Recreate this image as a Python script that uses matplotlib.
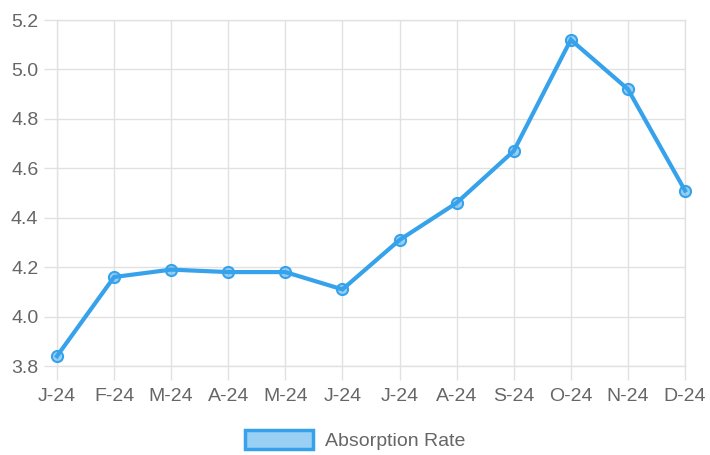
import matplotlib
matplotlib.use("Agg")
import matplotlib.pyplot as plt
from matplotlib.patches import Patch

months = ["J-24", "F-24", "M-24", "A-24", "M-24", "J-24", "J-24", "A-24", "S-24", "O-24", "N-24", "D-24"]
absorption = [3.84, 4.16, 4.19, 4.18, 4.18, 4.11, 4.31, 4.46, 4.67, 5.12, 4.92, 4.51]
y_ticks = [3.8, 4.0, 4.2, 4.4, 4.6, 4.8, 5.0, 5.2]
series_name = "Absorption Rate"

plt.rcParams['font.family'] = ['Liberation Sans', 'DejaVu Sans']

line_col = "#36A2EB"
fill_col = (54/255, 162/255, 235/255, 0.5)
grid_col = "#e1e1e1"
text_col = "#666666"

fig = plt.figure(figsize=(7.1, 4.55), dpi=100)
ax = fig.add_axes([57/710, 1 - 366/455, (685-57)/710, (366-20)/455])

x = list(range(len(months)))
ax.plot(x, absorption, color=line_col, linewidth=3.0, marker="o", markersize=8,
        markerfacecolor=fill_col, markeredgecolor=line_col, markeredgewidth=1.5,
        solid_joinstyle="miter", zorder=3, clip_on=False)

ax.set_xlim(0, len(months) - 1)
ax.set_ylim(3.8, 5.2)
ax.set_xticks(x)
ax.set_xticklabels(months)
ax.set_yticks(y_ticks)
ax.set_yticklabels([f"{v:.1f}" for v in y_ticks])

ax.grid(True, color=grid_col, linewidth=1)
for s in ax.spines.values():
    s.set_color(grid_col)
    s.set_linewidth(1)
ax.tick_params(axis="both", colors=grid_col, labelcolor=text_col, labelsize=14, width=1)
ax.tick_params(axis="y", length=9.5, pad=4)
ax.tick_params(axis="x", length=10, pad=6)

handle = Patch(facecolor=fill_col, edgecolor=line_col, linewidth=2.5)
fig.legend([handle], [series_name], loc="center", bbox_to_anchor=(0.5, 1 - 440/455),
           frameon=False, fontsize=14, labelcolor=text_col, handlelength=3.5,
           handleheight=1.1, handletextpad=0.6)

fig.savefig("out.png", dpi=100)
